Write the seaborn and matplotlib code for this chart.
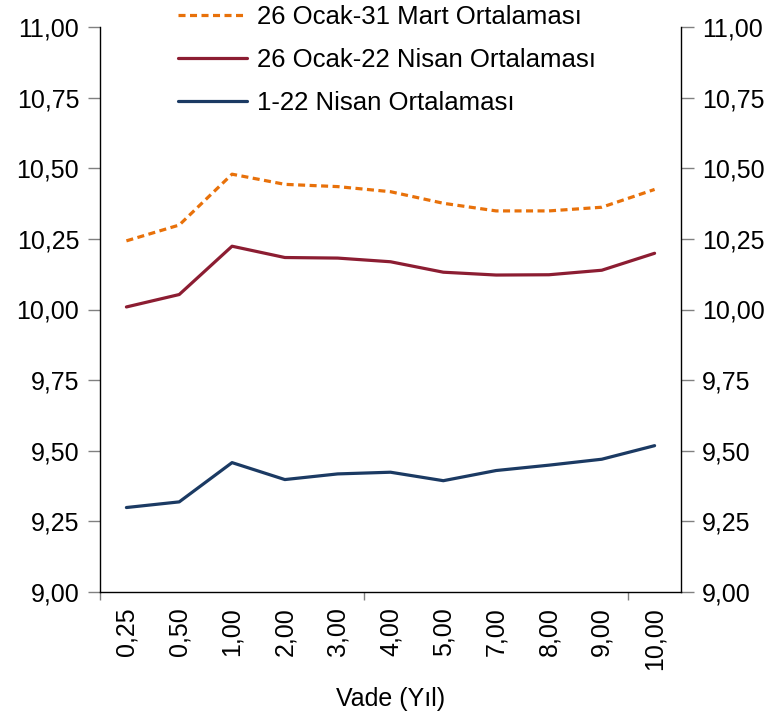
import pandas as pd
import seaborn as sns
import matplotlib.pyplot as plt

vade = ["0,25", "0,50", "1,00", "2,00", "3,00", "4,00", "5,00", "7,00", "8,00", "9,00", "10,00"]
mart_ort = [10.243, 10.299, 10.479, 10.443, 10.435, 10.417, 10.376, 10.349, 10.349, 10.362, 10.425]
nisan_ort = [10.009, 10.053, 10.224, 10.184, 10.182, 10.169, 10.132, 10.122, 10.123, 10.139, 10.199]
nisan_1_22 = [9.299, 9.319, 9.458, 9.398, 9.418, 9.424, 9.394, 9.430, 9.449, 9.470, 9.518]
yticks = [9.00, 9.25, 9.50, 9.75, 10.00, 10.25, 10.50, 10.75, 11.00]

sns.set_style("white")
plt.rcParams['font.family'] = ['Liberation Sans', 'DejaVu Sans']
plt.rcParams['text.color'] = 'black'
plt.rcParams['xtick.labelcolor'] = 'black'
plt.rcParams['ytick.labelcolor'] = 'black'
plt.rcParams['axes.labelcolor'] = 'black'

series = [
    ("26 Ocak-31 Mart Ortalaması", mart_ort, "#E8710A", (0, (2.2, 1.4))),
    ("26 Ocak-22 Nisan Ortalaması", nisan_ort, "#8C1D32", "-"),
    ("1-22 Nisan Ortalaması", nisan_1_22, "#1B3A63", "-"),
]

fig = plt.figure(figsize=(7.74, 7.22), dpi=100)
ax = fig.add_axes([100 / 774, 1 - 592 / 722, 581 / 774, 565 / 722])

x = list(range(len(vade)))
for name, vals, col, ls in series:
    df = pd.DataFrame({"x": x, "y": vals})
    sns.lineplot(data=df, x="x", y="y", ax=ax, color=col, linewidth=2.3,
                 linestyle=ls, label=name)

ax.set_xlim(-0.5, len(vade) - 0.5)
ax.set_ylim(9.0, 11.0)
ax.set_yticks(yticks)
ax.set_yticklabels([f"{v:.2f}".replace(".", ",") for v in yticks])

ax.set_xticks([-0.5, 4.5, 9.5])
ax.set_xticklabels([])
ax.set_xticks(x, minor=True)
ax.set_xticklabels(vade, minor=True, rotation=90)

ax.tick_params(axis="y", which="major", left=True, right=True, labelright=True,
               direction="out", length=9, width=1, color="#808080",
               labelsize=18, pad=6)
ax.tick_params(axis="x", which="major", bottom=True, direction="out", length=6,
               width=1, color="#808080")
ax.tick_params(axis="x", which="minor", bottom=False, labelsize=18, pad=9)

for s in ["left", "right", "bottom"]:
    ax.spines[s].set_color("black")
    ax.spines[s].set_linewidth(1)
ax.spines["top"].set_visible(False)

ax.set_xlabel("Vade (Yıl)", fontsize=18, labelpad=12)
ax.set_ylabel("")

ax.legend(loc="upper left", bbox_to_anchor=(178 / 774, 1 - 5 / 722),
          bbox_transform=fig.transFigure, frameon=False, fontsize=18.5,
          handlelength=2.7, handletextpad=0.36, labelspacing=0.74,
          borderpad=0, borderaxespad=0)

plt.savefig("out.png", dpi=100)
